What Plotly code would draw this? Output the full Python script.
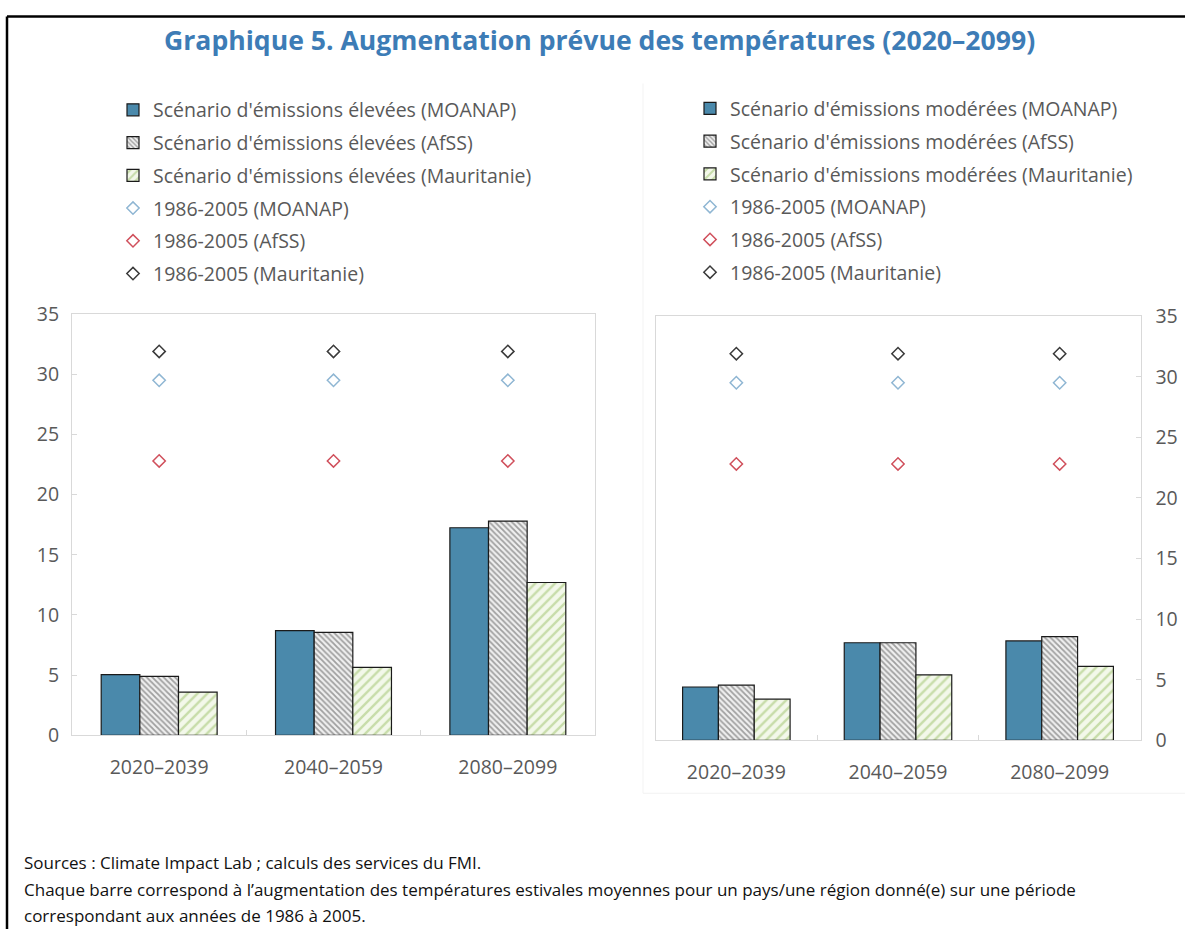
import plotly.graph_objects as go

W, H = 1185, 942

categories = ["2020–2039", "2040–2059", "2080–2099"]

# Left panel: high emissions scenario
high_moanap = [5.05, 8.7, 17.25]
high_afss = [4.9, 8.55, 17.8]
high_maur = [3.6, 5.65, 12.7]
# Right panel: moderate emissions scenario
mod_moanap = [4.4, 8.05, 8.2]
mod_afss = [4.55, 8.05, 8.55]
mod_maur = [3.4, 5.4, 6.1]
# Baseline 1986-2005 (same on both panels)
base_moanap = [29.5, 29.5, 29.5]
base_afss = [22.8, 22.8, 22.8]
base_maur = [31.9, 31.9, 31.9]

left_names = ["Scénario d'émissions élevées (MOANAP)",
              "Scénario d'émissions élevées (AfSS)",
              "Scénario d'émissions élevées (Mauritanie)"]
right_names = ["Scénario d'émissions modérées (MOANAP)",
               "Scénario d'émissions modérées (AfSS)",
               "Scénario d'émissions modérées (Mauritanie)"]
base_names = ["1986-2005 (MOANAP)", "1986-2005 (AfSS)", "1986-2005 (Mauritanie)"]

FONT = "Open Sans"
GREY_TXT = "#595959"
BLUE = "#4a89ab"

def px_x(p):
    return p / W

def px_y(p):
    # compensate for the observed vertical mapping of the rendered page
    q = (p - 12.4) / 0.973
    return 1 - q / H

bar_styles = [
    dict(color=BLUE, line=dict(color="#1a1a1a", width=1.2)),
    dict(color="#ffffff", line=dict(color="#1a1a1a", width=1.2),
         pattern=dict(shape="\\", fgcolor="#4d4d4d", bgcolor="#f0f0f0", size=4, solidity=0.45)),
    dict(color="#f1f7e6", line=dict(color="#1a1a1a", width=1.2),
         pattern=dict(shape="/", fgcolor="#9cc26a", bgcolor="#f3f8ea", size=7, solidity=0.35)),
]
diamond_colors = ["#8fb6d3", "#d0505c", "#3a3a3a"]

fig = go.Figure()

panels = [
    ("x", "y", "legend", [high_moanap, high_afss, high_maur], left_names),
    ("x2", "y2", "legend2", [mod_moanap, mod_afss, mod_maur], right_names),
]
for xa, ya, lg, series, names in panels:
    for i, (vals, nm) in enumerate(zip(series, names)):
        fig.add_trace(go.Bar(
            x=categories, y=vals, name=nm, marker=bar_styles[i],
            xaxis=xa, yaxis=ya, legend=lg, legendgroup=f"{lg}_{i}",
        ))
    for j, (vals, nm) in enumerate(zip([base_moanap, base_afss, base_maur], base_names)):
        fig.add_trace(go.Scatter(
            x=categories, y=vals, name=nm, mode="markers",
            marker=dict(symbol="diamond-open", size=9.5, color=diamond_colors[j],
                        line=dict(width=1.5, color=diamond_colors[j])),
            xaxis=xa, yaxis=ya, legend=lg, legendgroup=f"{lg}_b{j}",
        ))

axis_common = dict(showline=True, mirror=True, linecolor="#d9d9d9", linewidth=1,
                   showgrid=False, zeroline=False,
                   tickfont=dict(family=FONT, size=19.5, color=GREY_TXT))

legend_font = dict(family=FONT, size=19.5, color=GREY_TXT)
foot_font = dict(family=FONT, size=17, color="#111111")

fig.update_layout(
    width=W, height=H,
    margin=dict(l=0, r=0, t=0, b=0),
    paper_bgcolor="white", plot_bgcolor="white",
    font=dict(family=FONT, color=GREY_TXT),
    barmode="group", bargap=0.335, bargroupgap=0,
    showlegend=True,
    xaxis=dict(domain=[px_x(72), px_x(595)], anchor="y", ticks="inside", ticklen=5,
               tickcolor="#d9d9d9", tickson="boundaries", ticklabelstandoff=14, **axis_common),
    yaxis=dict(domain=[px_y(735), px_y(313)], anchor="x", range=[0, 35], dtick=5,
               ticks="inside", ticklen=5, tickcolor="#d9d9d9", ticklabelstandoff=8,
               **axis_common),
    xaxis2=dict(domain=[px_x(655.5), px_x(1140.5)], anchor="y2", ticks="inside", ticklen=5,
                tickcolor="#d9d9d9", tickson="boundaries", ticklabelstandoff=14, **axis_common),
    yaxis2=dict(domain=[px_y(740), px_y(315)], anchor="x2", side="right", range=[0, 35],
                dtick=5, ticks="inside", ticklen=5, tickcolor="#d9d9d9",
                ticklabelstandoff=10, **axis_common),
    legend=dict(x=px_x(113), y=px_y(89.2), xanchor="left", yanchor="top",
                font=legend_font, tracegroupgap=4.4, bgcolor="rgba(0,0,0,0)"),
    legend2=dict(x=px_x(690), y=px_y(87.8), xanchor="left", yanchor="top",
                 font=legend_font, tracegroupgap=4.4, bgcolor="rgba(0,0,0,0)"),
    annotations=[
        dict(text="<b>Graphique 5. Augmentation prévue des températures (2020–2099)</b>",
             x=px_x(599), y=px_y(38.5), xref="paper", yref="paper", showarrow=False,
             xanchor="center", yanchor="middle",
             font=dict(family=FONT, size=26.6, color="#3d7cb6")),
        dict(text="Sources : Climate Impact Lab ; calculs des services du FMI.",
             x=px_x(22), y=px_y(862), xref="paper", yref="paper", showarrow=False,
             xanchor="left", yanchor="middle", font=foot_font),
        dict(text="Chaque barre correspond à l’augmentation des températures estivales moyennes pour un pays/une région donné(e) sur une période",
             x=px_x(22), y=px_y(889), xref="paper", yref="paper", showarrow=False,
             xanchor="left", yanchor="middle", font=foot_font),
        dict(text="correspondant aux années de 1986 à 2005.",
             x=px_x(22), y=px_y(915), xref="paper", yref="paper", showarrow=False,
             xanchor="left", yanchor="middle", font=foot_font),
    ],
    shapes=[
        dict(type="line", xref="paper", yref="paper", x0=px_x(7), x1=1, y0=px_y(15), y1=px_y(15),
             line=dict(color="black", width=2.5)),
        dict(type="line", xref="paper", yref="paper", x0=px_x(7), x1=px_x(7), y0=px_y(15), y1=0,
             line=dict(color="black", width=2.5)),
        dict(type="line", xref="paper", yref="paper", x0=px_x(643), x1=px_x(643),
             y0=px_y(82), y1=px_y(793), line=dict(color="#f3f3f3", width=1)),
        dict(type="line", xref="paper", yref="paper", x0=px_x(643), x1=1,
             y0=px_y(793), y1=px_y(793), line=dict(color="#f3f3f3", width=1)),
    ],
)

fig.write_html(
    "out.html",
    config={"displayModeBar": False},
    post_script="document.body.style.margin='0';document.body.style.overflow='hidden';",
)
